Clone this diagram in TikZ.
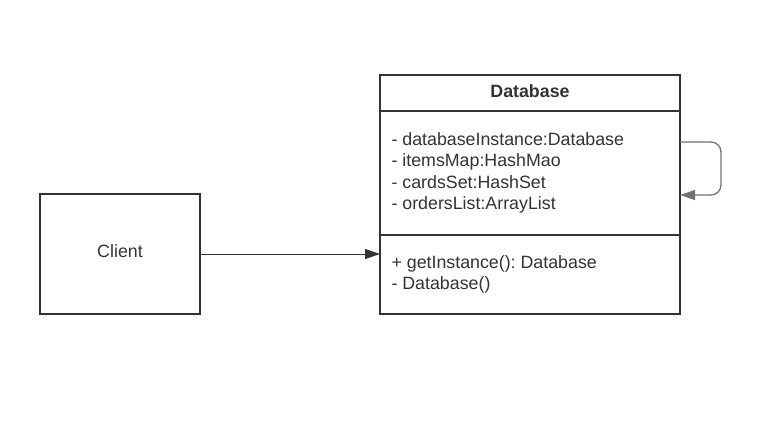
\documentclass[tikz,border=0pt]{standalone}
\usepackage{fontspec}
\setmainfont{Liberation Sans}
\usetikzlibrary{arrows.meta, positioning}
\definecolor{mainBlack}{gray}{0.2}
\definecolor{subGray}{gray}{0.45}
\frenchspacing

\begin{document}
\begin{tikzpicture}[x=1pt, y=-1pt, >={Triangle[length=15pt, width=10pt]},
    font=\fontsize{17.8pt}{21.3pt}\selectfont, text=mainBlack,
    classbox/.style={draw=mainBlack, line width=2pt, inner sep=0pt, outer sep=0pt, minimum width=300pt}]
    \useasboundingbox[fill=white] (0,0) rectangle (772,426);

    \node[classbox, minimum width=160pt, minimum height=120pt, text depth=5pt] (client) at (120,254) {Client};

    \node[classbox, minimum height=36pt, text depth=4pt, font=\fontsize{17.8pt}{21.3pt}\selectfont\bfseries] (head) at (530,93) {Database};
    \node[classbox, minimum height=124pt, below=0pt of head] (attrs) {};
    \node[classbox, minimum height=79pt, below=0pt of attrs] (ops) {};

    \node[anchor=west, align=left] (attrlist) at ([xshift=8pt]attrs.west)
        {- databaseInstance:Database\\- itemsMap:HashMao\\- cardsSet:HashSet\\- ordersList:ArrayList};
    \node[anchor=west, align=left] (oplist) at ([xshift=8pt]ops.west)
        {+ getInstance(): Database\\- Database()};

    \draw[->, line width=1pt, mainBlack] (client.east) -- (client.east -| ops.west);

    \coordinate (loopout) at ([yshift=31pt]attrs.east);
    \coordinate (loopin) at ([yshift=-22pt]attrs.east);
    \draw[->, line width=1.3pt, subGray, rounded corners=10pt] (loopout) -- ++(41,0) |- (loopin);
\end{tikzpicture}
\end{document}
